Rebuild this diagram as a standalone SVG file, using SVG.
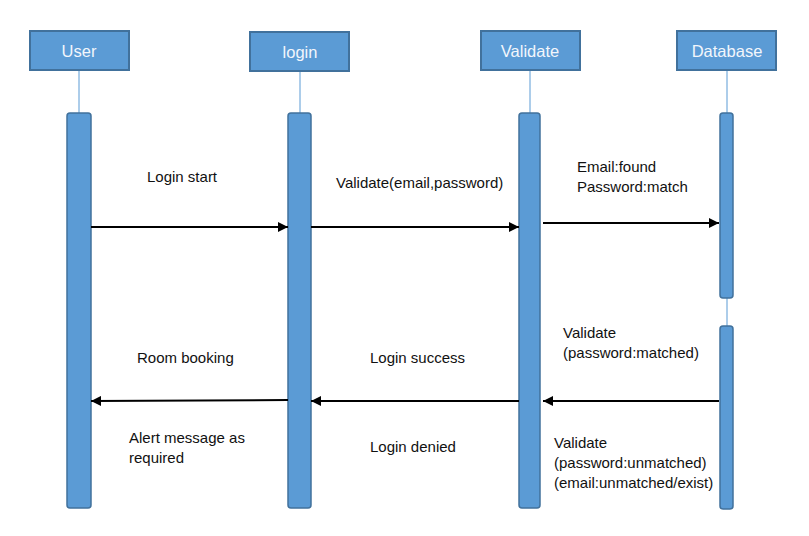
<svg xmlns="http://www.w3.org/2000/svg" width="809" height="536" viewBox="0 0 809 536">
<style>
.hd{fill:#5B9BD5;stroke:#41719C;stroke-width:2}
.bar{fill:#5B9BD5;stroke:#41719C;stroke-width:1.5}
.life{stroke:#5B9BD5;stroke-width:1}
.ht{font-family:"Liberation Sans",Arial,sans-serif;font-size:16.5px;fill:#F2F6FC;text-anchor:middle}
.lb{font-family:"Liberation Sans",Arial,sans-serif;font-size:15px;fill:#111}
.msg{stroke:#000;stroke-width:2;fill:none;marker-end:url(#ah)}
</style>
<defs>
<marker id="ah" viewBox="0 0 10 10" refX="10" refY="5" markerWidth="5" markerHeight="5" orient="auto" markerUnits="strokeWidth">
<path d="M0,0 L10,5 L0,10 z" fill="#000"/>
</marker>
</defs>
<rect width="809" height="536" fill="#fff"/>
<g id="user">
<line class="life" x1="79" y1="70" x2="79" y2="113"/>
<rect class="hd" x="30" y="31" width="99" height="39"/>
<text class="ht" x="79" y="57">User</text>
<rect class="bar" x="67" y="113" width="24" height="395" rx="3"/>
</g>
<g id="login">
<line class="life" x1="300" y1="71" x2="300" y2="113"/>
<rect class="hd" x="250" y="32" width="99" height="39"/>
<text class="ht" x="300" y="58">login</text>
<rect class="bar" x="288" y="113" width="23" height="395" rx="3"/>
</g>
<g id="validate">
<line class="life" x1="530" y1="70" x2="530" y2="113"/>
<rect class="hd" x="481" y="31" width="99" height="39"/>
<text class="ht" x="530" y="57">Validate</text>
<rect class="bar" x="519" y="113" width="21" height="395" rx="3"/>
</g>
<g id="database">
<line class="life" x1="727" y1="70" x2="727" y2="326"/>
<rect class="hd" x="677" y="31" width="99" height="39"/>
<text class="ht" x="727" y="57">Database</text>
<rect class="bar" x="720" y="113" width="13" height="185" rx="3"/>
<rect class="bar" x="720" y="326" width="13" height="183" rx="3"/>
</g>
<g id="connectors">
<line class="msg" x1="91" y1="227" x2="288" y2="227"/>
<line class="msg" x1="311" y1="227" x2="519" y2="227"/>
<line class="msg" x1="543" y1="223" x2="719" y2="223"/>
<line class="msg" x1="719" y1="401" x2="543" y2="401"/>
<line class="msg" x1="519" y1="401" x2="311" y2="401"/>
<line class="msg" x1="288" y1="400" x2="91" y2="401"/>
</g>
<g id="labels">
<text class="lb" x="147" y="182">Login start</text>
<text class="lb" x="336" y="188">Validate(email,password)</text>
<text class="lb" x="577" y="172">Email:found</text>
<text class="lb" x="577" y="192">Password:match</text>
<text class="lb" x="137" y="363">Room booking</text>
<text class="lb" x="370" y="363">Login success</text>
<text class="lb" x="563" y="338">Validate</text>
<text class="lb" x="563" y="358">(password:matched)</text>
<text class="lb" x="129" y="443">Alert message as</text>
<text class="lb" x="129" y="463">required</text>
<text class="lb" x="370" y="452">Login denied</text>
<text class="lb" x="554" y="448">Validate</text>
<text class="lb" x="554" y="468">(password:unmatched)</text>
<text class="lb" x="554" y="488">(email:unmatched/exist)</text>
</g>
</svg>
